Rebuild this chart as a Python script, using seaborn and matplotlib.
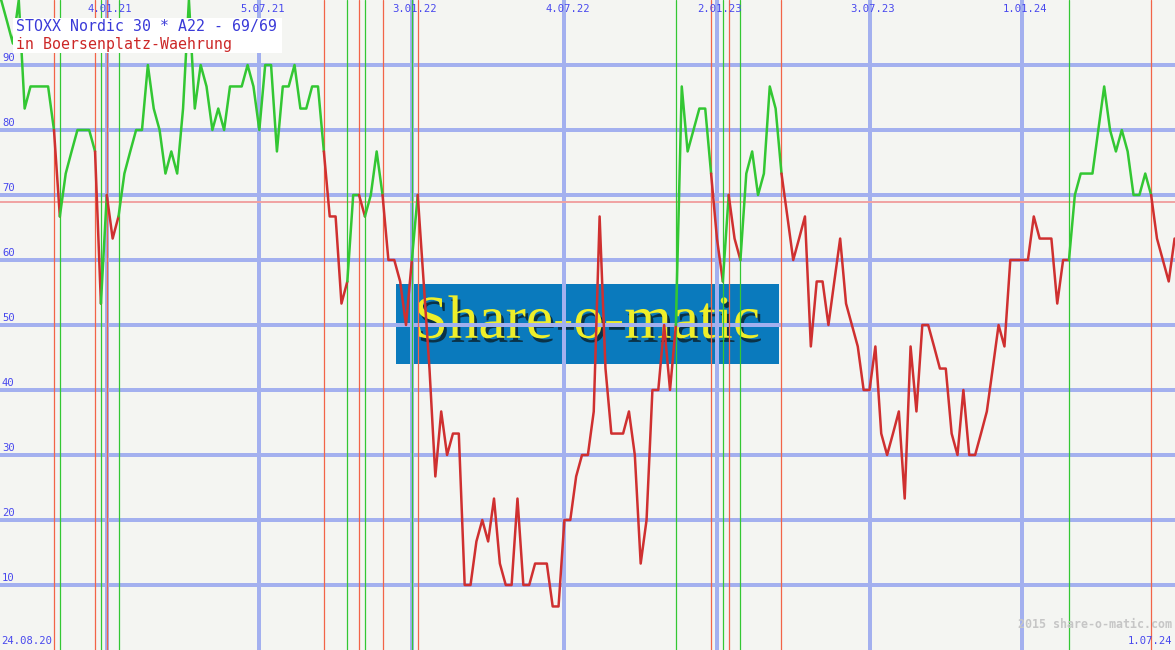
import matplotlib
matplotlib.use("Agg")
from datetime import datetime
import numpy as np
import pandas as pd
import matplotlib.pyplot as plt
import matplotlib.patheffects as pe
from matplotlib.patches import Rectangle
import seaborn as sns

# weekly values (percent of the 30 stocks), starting 24.08.20
start_date = "24.08.20"
end_date = "1.07.24"
values = [
    100, 100, 96.7, 93.3, 100, 83.3, 86.7, 86.7, 86.7, 86.7,
    80, 66.7, 73.3, 76.7, 80, 80, 80, 76.7, 53.3, 70,
    63.3, 66.7, 73.3, 76.7, 80, 80, 90, 83.3, 80, 73.3,
    76.7, 73.3, 83.3, 100, 83.3, 90, 86.7, 80, 83.3, 80,
    86.7, 86.7, 86.7, 90, 86.7, 80, 90, 90, 76.7, 86.7,
    86.7, 90, 83.3, 83.3, 86.7, 86.7, 76.7, 66.7, 66.7, 53.3,
    56.7, 70, 70, 66.7, 70, 76.7, 70, 60, 60, 56.7,
    50, 60, 70, 56.7, 43.3, 26.7, 36.7, 30, 33.3, 33.3,
    10, 10, 16.7, 20, 16.7, 23.3, 13.3, 10, 10, 23.3,
    10, 10, 13.3, 13.3, 13.3, 6.7, 6.7, 20, 20, 26.7,
    30, 30, 36.7, 66.7, 43.3, 33.3, 33.3, 33.3, 36.7, 30,
    13.3, 20, 40, 40, 50, 40, 50, 86.7, 76.7, 80,
    83.3, 83.3, 73.3, 63.3, 56.7, 70, 63.3, 60, 73.3, 76.7,
    70, 73.3, 86.7, 83.3, 73.3, 66.7, 60, 63.3, 66.7, 46.7,
    56.7, 56.7, 50, 56.7, 63.3, 53.3, 50, 46.7, 40, 40,
    46.7, 33.3, 30, 33.3, 36.7, 23.3, 46.7, 36.7, 50, 50,
    46.7, 43.3, 43.3, 33.3, 30, 40, 30, 30, 33.3, 36.7,
    43.3, 50, 46.7, 60, 60, 60, 60, 66.7, 63.3, 63.3,
    63.3, 53.3, 60, 60, 70, 73.3, 73.3, 73.3, 80, 86.7,
    80, 76.7, 80, 76.7, 70, 70, 73.3, 70, 63.3, 60,
    56.7, 63.3,
]
# weeks (index into values) with sell / buy signals
sell_weeks = [10, 17, 19, 56, 62, 66, 72, 122, 125, 134, 197]
buy_weeks = [11, 18, 21, 60, 63, 71, 116, 124, 127, 183]
threshold = 69
y_levels = [10, 20, 30, 40, 50, 60, 70, 80, 90]
date_labels = ["4.01.21", "5.07.21", "3.01.22", "4.07.22", "2.01.23", "3.07.23", "1.01.24"]
title_line1 = "STOXX Nordic 30 * A22 - 69/69"
title_line2 = "in Boersenplatz-Waehrung"
footer = "2015 share-o-matic.com"
watermark = "Share-o-matic"

GREEN = "#33c733"
RED = "#cf3030"
GRID = "#a3b0ef"
LABEL = "#4848ee"
BG = "#f4f5f2"
MONO = "DejaVu Sans Mono"

t0 = datetime.strptime(start_date, "%d.%m.%y")
def week_of(lbl):
    return (datetime.strptime(lbl, "%d.%m.%y") - t0).days / 7

# split line into coloured runs: red after a sell until the next buy
events = sorted([(w, "sell") for w in sell_weeks] + [(w, "buy") for w in buy_weeks])
state = []
for w in range(len(values) - 1):
    last = [e for e in events if e[0] <= w]
    state.append("red" if last and last[-1][1] == "sell" else "green")

rows = []
seg = 0
run_start = 0
for w in range(1, len(values)):
    if w == len(values) - 1 or state[w] != state[w - 1]:
        for i in range(run_start, w + 1):
            rows.append({"week": i, "value": values[i], "seg": seg})
        palette_col = state[w - 1]
        rows[-1]["col"] = palette_col
        seg += 1
        run_start = w
df = pd.DataFrame(rows)
seg_colors = {}
for s, grp in df.groupby("seg"):
    c = grp["col"].dropna().iloc[0]
    seg_colors[s] = GREEN if c == "green" else RED

sns.set_style("white")
fig = plt.figure(figsize=(11.75, 6.5), dpi=100)
fig.patch.set_facecolor(BG)
ax = fig.add_axes([0, 0, 1, 1])
ax.set_facecolor(BG)

# watermark box
ax.add_patch(Rectangle((396 / 1175, 1 - 364 / 650), 383 / 1175, 80 / 650,
                       transform=ax.transAxes, color="#0a7abd", zorder=0.5, lw=0))
ax.text(587 / 1175, 1 - 323 / 650, watermark, transform=ax.transAxes,
        ha="center", va="center", fontsize=44, family="Liberation Serif",
        color="#eeee2a", zorder=0.6,
        path_effects=[pe.withSimplePatchShadow(offset=(2, -3), shadow_rgbFace="#0b2a3a", alpha=0.9)])

for v in y_levels:
    ax.axhline(v, color=GRID, lw=1.6, zorder=1, antialiased=False)
    ax.annotate(str(v), xy=(0, v), xycoords=("axes fraction", "data"),
                xytext=(2, 2), textcoords="offset pixels", ha="left", va="bottom",
                fontsize=7.6, color=LABEL, family=MONO)
for lbl in date_labels:
    ax.axvline(week_of(lbl), color=GRID, lw=1.6, zorder=1, antialiased=False)
    ax.annotate(lbl, xy=(week_of(lbl), 1), xycoords=("data", "axes fraction"),
                xytext=(3, -9), textcoords="offset pixels", ha="center", va="center",
                fontsize=7.6, color=LABEL, family=MONO)

ax.axhline(threshold, color="#f0a2a2", lw=1.4, zorder=1.5)
for w in sell_weeks:
    ax.axvline(w, color="#f26448", lw=0.9, zorder=2)
for w in buy_weeks:
    ax.axvline(w, color=GREEN, lw=0.9, zorder=2)

sns.lineplot(data=df, x="week", y="value", hue="seg", palette=seg_colors,
             estimator=None, sort=False, legend=False, linewidth=1.8, ax=ax, zorder=3)

ax.set_xlim(0.8, 201.07)
ax.set_ylim(0, 100)
ax.set_xticks([])
ax.set_yticks([])
ax.set_xlabel("")
ax.set_ylabel("")
for s in ax.spines.values():
    s.set_visible(False)

# title box
ax.add_patch(Rectangle((13 / 1175, 1 - 53 / 650), 269 / 1175, 35 / 650,
                       transform=ax.transAxes, color="white", zorder=5, lw=0))
ax.text(16 / 1175, 1 - 27 / 650, title_line1, transform=ax.transAxes, ha="left", va="center",
        fontsize=10.7, color="#3a3ad8", family=MONO, zorder=6)
ax.text(16 / 1175, 1 - 44 / 650, title_line2, transform=ax.transAxes, ha="left", va="center",
        fontsize=10.7, color="#cc2727", family=MONO, zorder=6)

ax.annotate(start_date, xy=(0, 0), xycoords="axes fraction", xytext=(1, 9),
            textcoords="offset pixels", ha="left", va="center", fontsize=7.6, color=LABEL, family=MONO)
ax.annotate(end_date, xy=(1, 0), xycoords="axes fraction", xytext=(-3, 9),
            textcoords="offset pixels", ha="right", va="center", fontsize=7.6, color=LABEL, family=MONO)
ax.annotate(footer, xy=(1, 0), xycoords="axes fraction", xytext=(-3, 25),
            textcoords="offset pixels", ha="right", va="center", fontsize=8.4,
            color="#c6c6c6", family=MONO, fontweight="bold", zorder=6)

fig.savefig("out.png", dpi=100, facecolor=BG)
